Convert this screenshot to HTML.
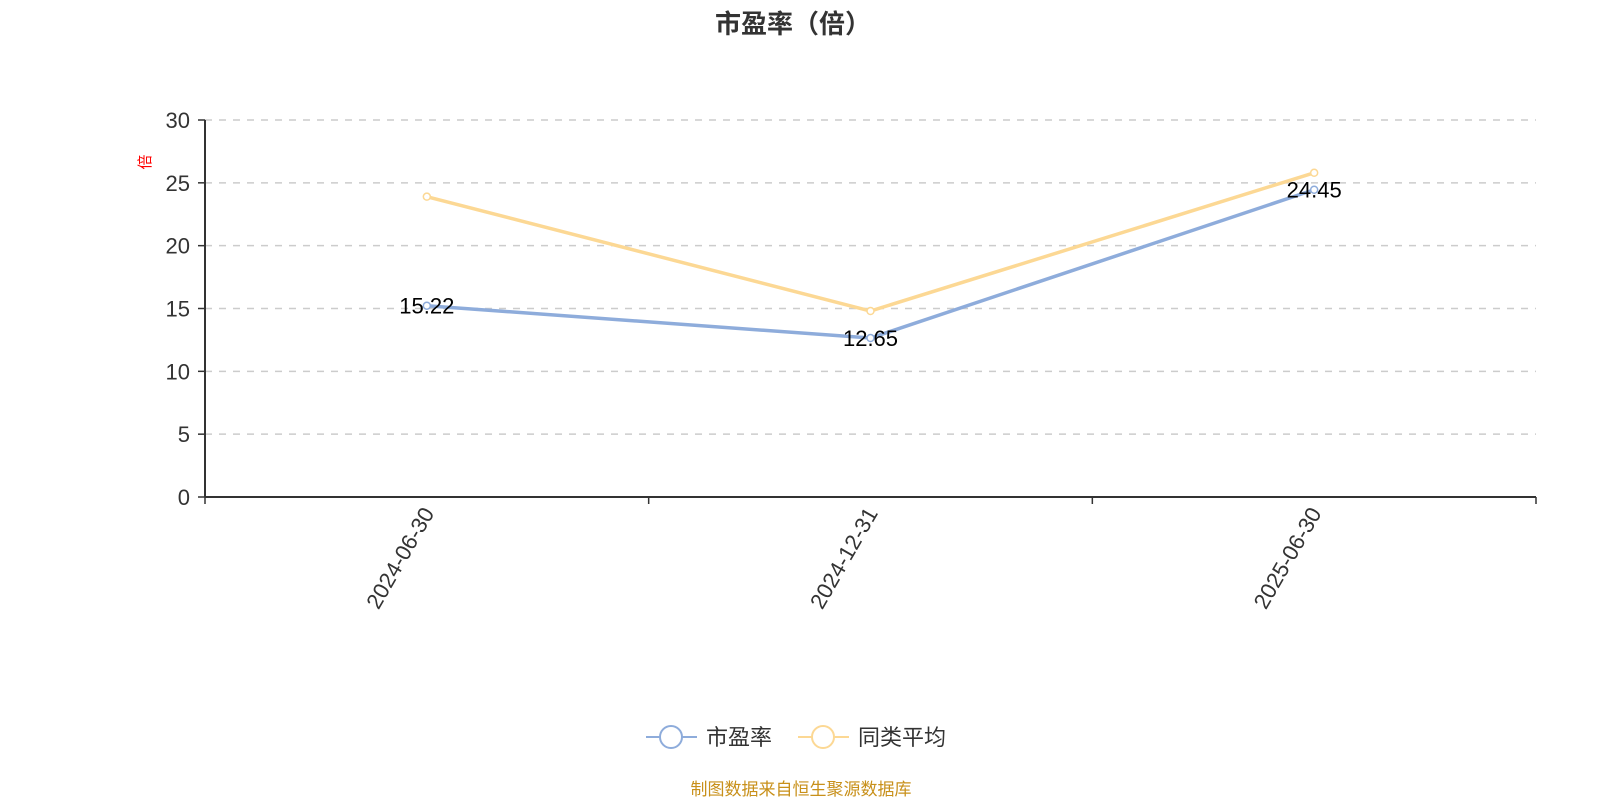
<!DOCTYPE html>
<html><head><meta charset="utf-8"><style>
body{margin:0;background:#fff;width:1600px;height:800px;overflow:hidden;font-family:"Liberation Sans","Noto Sans CJK SC",sans-serif}
</style></head><body>
<svg id="c" width="1600" height="800" font-family="Liberation Sans, Noto Sans CJK SC, sans-serif">
<text x="793" y="33" text-anchor="middle" font-size="26" font-weight="bold" fill="#333">市盈率（倍）</text>
<text transform="translate(150,162) rotate(-90)" text-anchor="middle" font-size="15" fill="#f00">倍</text>
<g id="grid"></g><g id="axes"></g><g id="series"></g>
<g>
<g><line x1="646" y1="737" x2="697" y2="737" stroke="#8eacdb" stroke-width="2"/><circle cx="671" cy="737" r="11" fill="#fff" stroke="#8eacdb" stroke-width="2"/><text x="706" y="745" font-size="22" fill="#333">市盈率</text></g>
<g><line x1="798" y1="737" x2="849" y2="737" stroke="#fcd894" stroke-width="2"/><circle cx="823" cy="737" r="11" fill="#fff" stroke="#fcd894" stroke-width="2"/><text x="858" y="745" font-size="22" fill="#333">同类平均</text></g>
</g>
<text x="801" y="795" text-anchor="middle" font-size="17" fill="#c8901a">制图数据来自恒生聚源数据库</text>
</svg>
<script>
const categories=["2024-06-30","2024-12-31","2025-06-30"];
const peValues=[15.22,12.65,24.45];
const avgValues=[23.9,14.8,25.8];
const yTicks=[0,5,10,15,20,25,30];
const NS="http://www.w3.org/2000/svg";
const X0=205,X1=1536,Y0=497,Y1=120,YMAX=30;
const bw=(X1-X0)/categories.length;
const xs=i=>X0+bw*(i+0.5);
const ys=v=>Y0-(v/YMAX)*(Y0-Y1);
function mk(t,a,p){const e=document.createElementNS(NS,t);for(const k in a)e.setAttribute(k,a[k]);p.appendChild(e);return e;}
const grid=document.getElementById('grid'),axes=document.getElementById('axes'),ser=document.getElementById('series');
yTicks.forEach(t=>{
 if(t>0){const g=mk('line',{x1:X0,x2:X1,y1:ys(t),y2:ys(t),stroke:'#ccc','stroke-width':1.5,'stroke-dasharray':'7,7'},grid);
 
 }
 const tk=mk('line',{x1:X0-7,x2:X0,y1:ys(t),y2:ys(t),stroke:'#333','stroke-width':1.5},axes);
 
 
 const l=mk('text',{x:X0-15,y:ys(t)+8,'text-anchor':'end','font-size':22,fill:'#333'},axes);l.textContent=t;
 
 
});
const ya=mk('line',{x1:X0,x2:X0,y1:Y1,y2:Y0,stroke:'#333','stroke-width':2},axes);


const xa=mk('line',{x1:X0,x2:X1,y1:Y0,y2:Y0,stroke:'#333','stroke-width':2},axes);


for(let i=0;i<=categories.length;i++){const t=mk('line',{x1:X0+bw*i,x2:X0+bw*i,y1:Y0,y2:Y0+7,stroke:'#333','stroke-width':1.5},axes);
 
 }
categories.forEach((c,i)=>{
 const l=mk('text',{transform:`translate(${xs(i)+8},${Y0+16}) rotate(-60)`,'text-anchor':'end','font-size':22,fill:'#333'},axes);l.textContent=c;
 
 
});
function line(vals,color,name,labels){
 const p=mk('polyline',{points:vals.map((v,i)=>xs(i)+','+ys(v)).join(' '),fill:'none',stroke:color,'stroke-width':3.5},ser);
 
 
 vals.forEach((v,i)=>{
  const c=mk('circle',{cx:xs(i),cy:ys(v),r:3.5,fill:'#fff',stroke:color,'stroke-width':1.5},ser);
  
  
  if(labels){const t=mk('text',{x:xs(i),y:ys(v)+8,'text-anchor':'middle','font-size':22,fill:'#000'},ser);t.textContent=v.toFixed(2);
  
  }
 });
}
line(avgValues,'#fcd894','peer-avg',false);
line(peValues,'#8eacdb','pe',true);
</script>
</body></html>
